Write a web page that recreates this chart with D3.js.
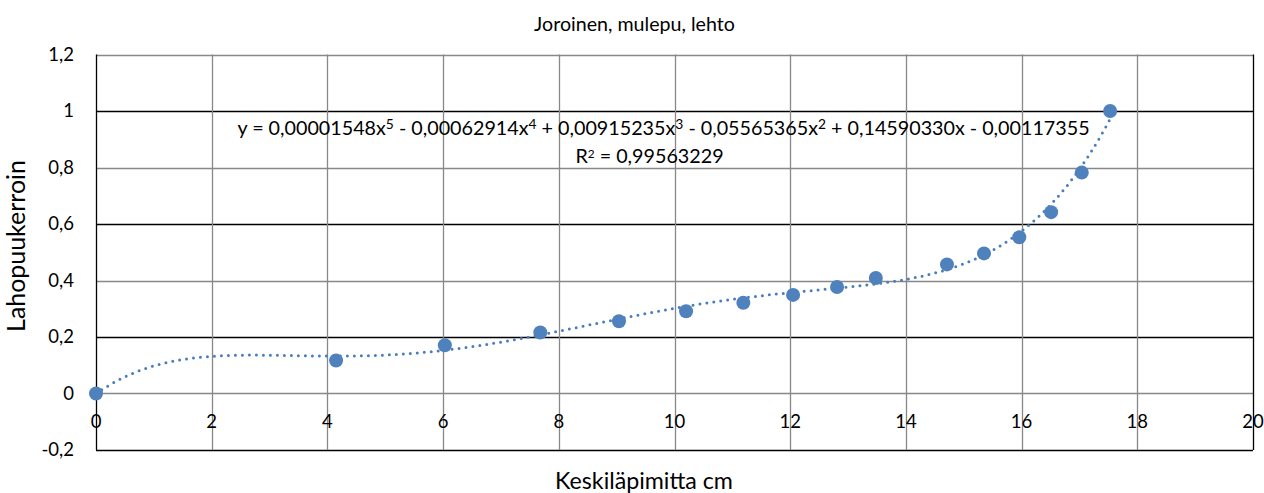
<!DOCTYPE html>
<html>
<head>
<meta charset="utf-8">
<script src="https://cdn.jsdelivr.net/npm/d3@7"></script>
<style>
  body { margin: 0; background: #fff; }
  svg { font-family: "Gill Sans", "Lato", "Open Sans", sans-serif; }
</style>
</head>
<body>
<svg id="chart" width="1264" height="493"></svg>
<script>
// measured diameters (cm) and decay coefficients
const diameters = [0, 4.15, 6.03, 7.68, 9.04, 10.2, 11.19, 12.05, 12.81, 13.48, 14.71, 15.35, 15.96, 16.51, 17.04, 17.53];
const coefficients = [0, 0.117, 0.171, 0.216, 0.256, 0.291, 0.321, 0.349, 0.377, 0.409, 0.457, 0.496, 0.553, 0.642, 0.782, 1.0];
// trendline polynomial, highest power first
const polyCoefs = [0.00001548, -0.00062914, 0.00915235, -0.05565365, 0.14590330, -0.00117355];
const xTicks = [0, 2, 4, 6, 8, 10, 12, 14, 16, 18, 20];
const yTicks = [-0.2, 0, 0.2, 0.4, 0.6, 0.8, 1, 1.2];

const svg = d3.select("#chart");
const plotLeft = 96, plotRight = 1253, plotTop = 54.5, plotBottom = 450;

const x = d3.scaleLinear().domain([0, 20]).range([plotLeft, plotRight]);
const y = d3.scaleLinear().domain([-0.2, 1.2]).range([plotBottom, plotTop]);
const fmt = v => String(+v.toFixed(1)).replace(".", ",");

// scale the font so the text takes the width it has in the original (Gill Sans isn't installed)
function fitWidth(sel, width) {
    let fs = parseFloat(sel.attr("font-size"));
    let w = sel.node().getComputedTextLength();
    sel.attr("font-size", fs * width / w);
    return fs * width / w;
}

// horizontal gridlines
svg.append("g").selectAll("line")
    .data(yTicks)
    .enter().append("line")
    .attr("x1", plotLeft).attr("x2", plotRight)
    .attr("y1", d => Math.round(y(d)) + 0.5).attr("y2", d => Math.round(y(d)) + 0.5)
    .attr("stroke", (d, i) => i % 2 == 0 ? "#000" : "#888")
    .attr("stroke-width", 1.3);

// vertical gridlines
svg.append("g").selectAll("line")
    .data(xTicks)
    .enter().append("line")
    .attr("x1", d => Math.round(x(d)) + 0.5).attr("x2", d => Math.round(x(d)) + 0.5)
    .attr("y1", plotTop).attr("y2", plotBottom)
    .attr("stroke", (d, i) => (i == 0 || i == xTicks.length - 1) ? "#000" : "#888")
    .attr("stroke-width", 1.3);

// y tick labels
svg.append("g").selectAll("text")
    .data(yTicks)
    .enter().append("text")
    .attr("x", 74).attr("y", d => y(d))
    .attr("dy", "0.35em")
    .attr("text-anchor", "end")
    .attr("font-size", 18.5)
    .text(fmt);

// x tick labels, drawn just under the zero line
svg.append("g").selectAll("text")
    .data(xTicks)
    .enter().append("text")
    .attr("x", d => x(d)).attr("y", 428)
    .attr("text-anchor", "middle")
    .attr("font-size", 18.5)
    .text(d => d);

// trendline
const poly = v => polyCoefs.reduce((acc, c) => acc * v + c, 0);
const trendX = d3.range(0, 17.55, 0.05).concat([17.55]);
svg.append("path")
    .datum(trendX)
    .attr("fill", "none")
    .attr("stroke", "#4a7ebb")
    .attr("stroke-width", 3)
    .attr("stroke-linecap", "round")
    .attr("stroke-dasharray", "0 7")
    .attr("d", d3.line().x(d => x(d)).y(d => y(poly(d))));

// points
svg.append("g").selectAll("circle")
    .data(diameters)
    .enter().append("circle")
    .attr("cx", d => x(d))
    .attr("cy", (d, i) => y(coefficients[i]))
    .attr("r", 7)
    .attr("fill", "#4f81bd");

// equation
const eqParts = [
    ["y = 0,00001548x", "5"], [" - 0,00062914x", "4"], [" + 0,00915235x", "3"],
    [" - 0,05565365x", "2"], [" + 0,14590330x - 0,00117355", null]
];
const eq = svg.append("text")
    .attr("x", 663.5).attr("y", 135)
    .attr("text-anchor", "middle")
    .attr("font-size", 18);
eqParts.forEach(p => {
    eq.append("tspan").text(p[0]);
    if (p[1]) eq.append("tspan").attr("baseline-shift", "40%").attr("font-size", "0.7em").text(p[1]);
});
const eqSize = fitWidth(eq, 853);

const r2 = svg.append("text")
    .attr("x", 649.5).attr("y", 163)
    .attr("text-anchor", "middle")
    .attr("font-size", eqSize);
r2.append("tspan").text("R");
r2.append("tspan").attr("baseline-shift", "45%").attr("font-size", "0.6em").text("2");
r2.append("tspan").text(" = 0,99563229");

// titles
const title = svg.append("text")
    .attr("x", 634.5).attr("y", 31)
    .attr("text-anchor", "middle")
    .attr("font-size", 18)
    .text("Joroinen, mulepu, lehto");
fitWidth(title, 201);

const xTitle = svg.append("text")
    .attr("x", 644).attr("y", 489)
    .attr("text-anchor", "middle")
    .attr("font-size", 21)
    .text("Keskiläpimitta cm");
fitWidth(xTitle, 178);

const yTitle = svg.append("text")
    .attr("transform", "translate(25,246) rotate(-90)")
    .attr("text-anchor", "middle")
    .attr("font-size", 21)
    .text("Lahopuukerroin");
fitWidth(yTitle, 172);
</script>
</body>
</html>
